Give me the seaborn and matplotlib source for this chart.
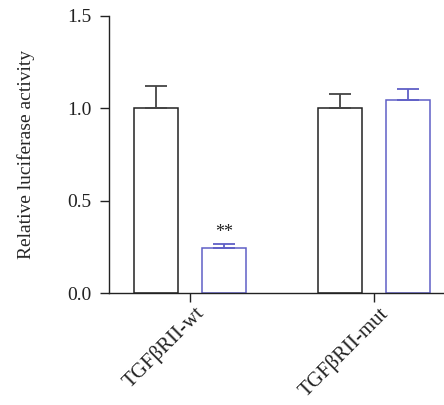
import matplotlib
matplotlib.use("Agg")
import matplotlib.pyplot as plt
import matplotlib.transforms as mtrans
import seaborn as sns
import pandas as pd

categories = ["TGFβRII-wt", "TGFβRII-mut"]
groups = ["Control", "miR"]
control_means = [1.0, 1.0]
control_errs = [0.12, 0.08]
treat_means = [0.245, 1.045]
treat_errs = [0.022, 0.062]
y_ticks = [0.0, 0.5, 1.0, 1.5]

sns.set_style("ticks")
plt.rcParams['font.family'] = ['Liberation Serif', 'DejaVu Serif']

blue = "#5f5fc6"
dark = "#222222"
fs = 14

df = pd.DataFrame({
    "construct": categories * 2,
    "group": [groups[0]] * 2 + [groups[1]] * 2,
    "value": control_means + treat_means,
    "err": control_errs + treat_errs,
})

fig = plt.figure(figsize=(4.44, 4.05), dpi=100)
ax = fig.add_axes([0.2455, 0.2765, 0.7545, 0.684])

sns.barplot(data=df, x="construct", y="value", hue="group", order=categories,
            hue_order=groups, errorbar=None, width=0.74, gap=0.35,
            fill=False, legend=False, ax=ax)

edge_colors = {groups[0]: dark, groups[1]: blue}
for gi, g in enumerate(groups):
    cont = ax.containers[gi]
    sub = df[df["group"] == g].set_index("construct").loc[categories]
    for patch, (_, row) in zip(cont.patches, sub.iterrows()):
        patch.set_edgecolor(edge_colors[g])
        patch.set_facecolor("white")
        patch.set_fill(True)
        patch.set_linewidth(1.1)
        xc = patch.get_x() + patch.get_width() / 2
        ax.errorbar([xc], [row["value"]], yerr=[[0], [row["err"]]], fmt="none",
                    ecolor=("#444444" if g == groups[0] else blue),
                    elinewidth=1.3, capsize=8, capthick=1.3, zorder=1)

# significance mark
wt_patch = ax.containers[1].patches[0]
ax.text(wt_patch.get_x() + wt_patch.get_width() / 2,
        treat_means[0] + treat_errs[0] + 0.015, "**",
        ha="center", va="bottom", fontsize=13, color=dark)

ax.set_ylim(0, 1.5)
ax.set_xlim(-0.44, 1.38)
ax.set_yticks(y_ticks)
ax.set_yticklabels([f"{v:.1f}" for v in y_ticks], fontsize=fs)
ax.set_xlabel("")
ax.set_ylabel("Relative luciferase activity", fontsize=fs, labelpad=23)
ax.set_xticks(range(len(categories)))
ax.set_xticklabels(categories, rotation=45, ha="right", rotation_mode="anchor",
                   fontsize=15)

for s in ["top", "right"]:
    ax.spines[s].set_visible(False)
for s in ["left", "bottom"]:
    ax.spines[s].set_color(dark)
    ax.spines[s].set_linewidth(1.0)
ax.tick_params(axis="both", colors=dark, length=6.5, width=1.0, direction="out")
ax.tick_params(axis="y", pad=6)
ax.tick_params(axis="x", pad=1)
off = mtrans.ScaledTranslation(3 / 72, 0, fig.dpi_scale_trans)
for lbl in ax.get_xticklabels():
    lbl.set_transform(lbl.get_transform() + off)

fig.savefig("out.png", dpi=100)
